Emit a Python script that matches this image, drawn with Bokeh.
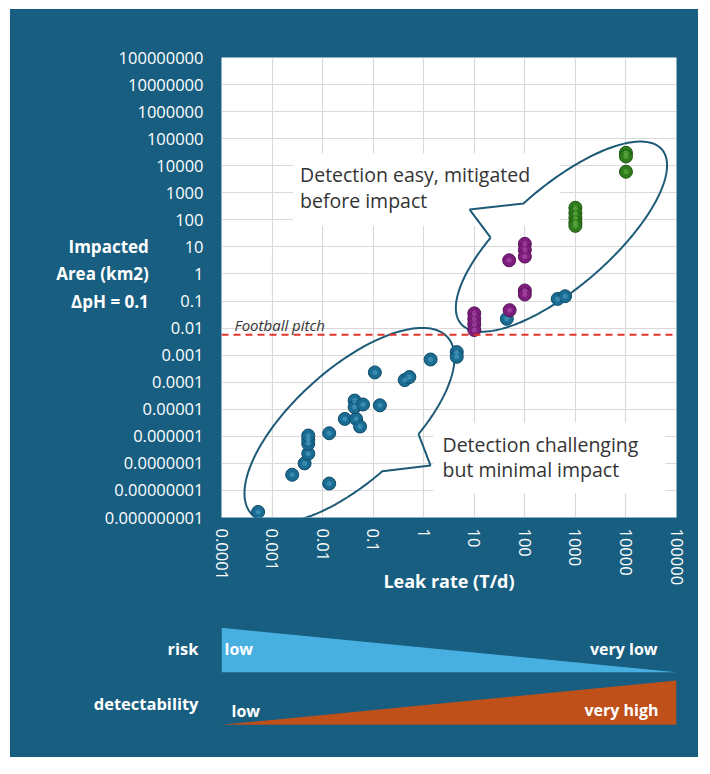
import math
import numpy as np
from bokeh.plotting import figure
from bokeh.models import Range1d, FixedTicker, CustomJSTickFormatter, Span, Label
from bokeh.layouts import column
from bokeh.embed import file_html
from bokeh.resources import INLINE

# ---------------- data ----------------
x_ticks = [1e-4, 1e-3, 1e-2, 1e-1, 1e0, 1e1, 1e2, 1e3, 1e4, 1e5]
x_tick_labels = ["0.0001", "0.001", "0.01", "0.1", "1", "10", "100", "1000", "10000", "100000"]
y_ticks = [1e-9, 1e-8, 1e-7, 1e-6, 1e-5, 1e-4, 1e-3, 1e-2, 1e-1, 1e0,
           1e1, 1e2, 1e3, 1e4, 1e5, 1e6, 1e7, 1e8]
y_tick_labels = ["0.000000001", "0.00000001", "0.0000001", "0.000001", "0.00001",
                 "0.0001", "0.001", "0.01", "0.1", "1", "10", "100", "1000",
                 "10000", "100000", "1000000", "10000000", "100000000"]

blue_x = [5.3e-4, 2.5e-3, 4.4e-3, 5.2e-3, 5.2e-3, 5.2e-3, 5.2e-3, 0.0135, 0.0135,
          0.0275, 0.046, 0.055, 0.043, 0.043, 0.063, 0.136, 0.108, 0.42, 0.52,
          1.37, 4.5, 4.5, 44, 447, 625]
blue_y = [1.6e-9, 3.8e-8, 1.0e-7, 2.3e-7, 5.3e-7, 7.5e-7, 1.07e-6, 1.8e-8, 1.3e-6,
          4.4e-6, 4.4e-6, 2.3e-6, 2.1e-5, 1.2e-5, 1.5e-5, 1.4e-5, 2.3e-4, 1.2e-4, 1.55e-4,
          6.9e-4, 1.3e-3, 8.7e-4, 0.022, 0.12, 0.15]
purple_x = [10, 10, 10, 10, 49, 50, 100, 100, 100, 100, 100]
purple_y = [0.035, 0.022, 0.014, 0.0085, 3.2, 0.046, 13, 7.8, 4.4, 0.245, 0.174]
green_x = [1000, 1000, 1000, 1000, 1000, 10000, 10000, 10000]
green_y = [280, 180, 120, 80, 60, 30000, 22000, 6000]

pitch_area = 0.0057   # km2, "Football pitch" reference line

row_names = ["risk", "detectability"]
risk_labels = ["low", "very low"]
detect_labels = ["low", "very high"]

# ---------------- style ----------------
BG = "#175e80"
FONT = "Open Sans"
FW, FH = 455, 460

xr = Range1d(x_ticks[0], x_ticks[-1])
yr = Range1d(y_ticks[0], y_ticks[-1])

p = figure(x_axis_type="log", y_axis_type="log", x_range=xr, y_range=yr,
           frame_width=FW, frame_height=FH,
           min_border_left=211, min_border_right=22, min_border_top=48, min_border_bottom=83,
           background_fill_color="white", border_fill_color=BG, outline_line_color=None,
           output_backend="svg", toolbar_location=None)

fmt_code = """
const lt = Math.log10(tick);
for (let i = 0; i < tv.length; i++) {
  if (Math.abs(Math.log10(tv[i]) - lt) < 1e-6) { return tl[i]; }
}
return "";
"""
for ax, grid, tv, tl in [(p.xaxis[0], p.xgrid[0], x_ticks, x_tick_labels),
                         (p.yaxis[0], p.ygrid[0], y_ticks, y_tick_labels)]:
    tk = FixedTicker(ticks=tv)
    ax.ticker = tk
    grid.ticker = tk
    ax.formatter = CustomJSTickFormatter(args=dict(tv=tv, tl=tl), code=fmt_code)
    ax.axis_line_color = None
    ax.major_tick_line_color = None
    ax.minor_tick_line_color = None
    ax.major_tick_in = 0
    ax.major_tick_out = 0
    ax.minor_tick_in = 0
    ax.minor_tick_out = 0
    ax.major_label_text_color = "white"
    ax.major_label_text_font = FONT
    ax.major_label_text_font_size = "16.5px"
    ax.axis_label_text_color = "white"
    ax.axis_label_text_font = FONT
    ax.axis_label_text_font_style = "bold"
    grid.grid_line_color = "#d9d9d9"
    grid.grid_line_width = 1.2

p.xaxis.major_label_orientation = -math.pi / 2
p.xaxis.major_label_standoff = 11
p.yaxis.major_label_standoff = 18

p.xaxis.axis_label = "Leak rate (T/d)"
p.xaxis.axis_label_text_font_size = "18px"
p.xaxis.axis_label_standoff = -19

p.yaxis.axis_label = "Impacted\nArea (km2)\nΔpH = 0.1\n\u00a0"
p.yaxis.axis_label_orientation = "horizontal"
p.yaxis.axis_label_text_font_size = "17px"
p.yaxis.axis_label_text_align = "center"
p.yaxis.axis_label_text_line_height = 1.19
p.yaxis.axis_label_standoff = -47


# ---------------- callouts (wedge ellipse outlines) ----------------
def callout(center, a, b, ang, gap, tip, n=260):
    lcx, lcy = math.log10(center[0]), math.log10(center[1])
    pxx, pxy = FW / 9.0, FH / 17.0
    th = math.radians(ang)
    t = np.radians(np.linspace(gap[1], gap[0] + 360, n))
    u, v = a * np.cos(t), b * np.sin(t)
    dx = u * math.cos(th) - v * math.sin(th)
    dy = u * math.sin(th) + v * math.cos(th)
    lx = lcx + dx / pxx
    ly = lcy + dy / pxy
    xs = list(10 ** lx) + [tip[0], 10 ** lx[0]]
    ys = list(10 ** ly) + [tip[1], 10 ** ly[0]]
    return xs, ys


# callout texts (white boxes mask the grid, drawn beneath the outlines)
p.add_layout(Label(x=0.0026, y=1320, text="Detection easy, mitigated\nbefore impact",
                   text_align="left", text_baseline="middle", text_font=FONT,
                   text_font_size="19.5px", text_color="#333333", text_line_height=0.94,
                   background_fill_color="white", padding=(7, 30, 8, 12), level="underlay"))
p.add_layout(Label(x=1.56, y=1.58e-7, text="Detection challenging\nbut minimal impact",
                   text_align="left", text_baseline="middle", text_font=FONT,
                   text_font_size="19.5px", text_color="#333333", text_line_height=0.94,
                   background_fill_color="white", padding=(9, 27, 8, 10), level="underlay"))

ELL = "#1d5a78"
xs, ys = callout((0.034, 2.5e-6), 132, 56, 42, (-92.7, -69.8), (1.36, 8.4e-8))
p.line(xs, ys, line_color=ELL, line_width=2)
xs, ys = callout((530, 24), 133, 50, 41, (93, 114), (8.1, 240))
p.line(xs, ys, line_color=ELL, line_width=2)

# football pitch line
p.add_layout(Span(location=pitch_area, dimension="width", line_color="#e0352b",
                  line_width=2, line_dash="7 5"))
p.add_layout(Label(x=xr.start, y=pitch_area, x_offset=13, y_offset=10, text="Football pitch",
                   text_baseline="middle", text_font=FONT, text_font_style="italic",
                   text_font_size="15px", text_color="#333333"))


# ---------------- points ----------------
def spheres(xv, yv, base, edge, hi):
    p.scatter(xv, yv, size=13, fill_color=base, line_color=edge, line_width=1)
    p.scatter(xv, yv, size=5, fill_color=hi, fill_alpha=0.45, line_color=None)


spheres(blue_x, blue_y, "#1a6c92", "#0e4a68", "#5fb2d8")
spheres(purple_x, purple_y, "#7d1e7d", "#561256", "#c060c0")
spheres(green_x, green_y, "#2e7d1c", "#1c5510", "#70c050")

# ---------------- bottom strip: risk / detectability ----------------
row_y = [48, 103]
q = figure(x_axis_type="log", x_range=xr, y_range=Range1d(157, 0),
           frame_width=FW, frame_height=157,
           min_border_left=211, min_border_right=22, min_border_top=0, min_border_bottom=0,
           x_axis_location=None, y_axis_location="left",
           background_fill_color=BG, border_fill_color=BG,
           outline_line_color=BG, outline_line_width=3,
           output_backend="svg", toolbar_location=None)
q.xgrid.visible = False
q.ygrid.visible = False
qa = q.yaxis[0]
qa.ticker = FixedTicker(ticks=row_y)
qa.formatter = CustomJSTickFormatter(args=dict(tv=row_y, tl=row_names), code="""
for (let i = 0; i < tv.length; i++) { if (Math.abs(tv[i] - tick) < 1e-6) { return tl[i]; } }
return "";
""")
qa.axis_line_color = None
qa.major_tick_line_color = None
qa.minor_tick_line_color = None
qa.major_tick_in = 0
qa.major_tick_out = 0
qa.major_label_standoff = 23
qa.major_label_text_color = "white"
qa.major_label_text_font = FONT
qa.major_label_text_font_style = "bold"
qa.major_label_text_font_size = "16.5px"

x0, x1 = xr.start, xr.end
q.patch([x0, x0, x1], [27.3, 71.7, 71.7], fill_color="#47b0e1", line_color=None)
q.patch([x0, x1, x1], [124.3, 80, 124.3], fill_color="#c0501a", line_color=None)

lab_kw = dict(text_font=FONT, text_font_style="bold", text_color="white",
              text_baseline="middle", text_font_size="16px")
q.add_layout(Label(x=x0, y=48, x_offset=3, text=risk_labels[0], text_align="left", **lab_kw))
q.add_layout(Label(x=x1, y=48, x_offset=-19, text=risk_labels[1], text_align="right", **lab_kw))
q.add_layout(Label(x=x0, y=110, x_offset=10, text=detect_labels[0], text_align="left", **lab_kw))
q.add_layout(Label(x=x1, y=109, x_offset=-18, text=detect_labels[1], text_align="right", **lab_kw))

layout = column(p, q, spacing=0, margin=(9, 0, 0, 10),
                styles={"background-color": BG, "width": "688px"})
open("out.html", "w").write(file_html(layout, INLINE))
